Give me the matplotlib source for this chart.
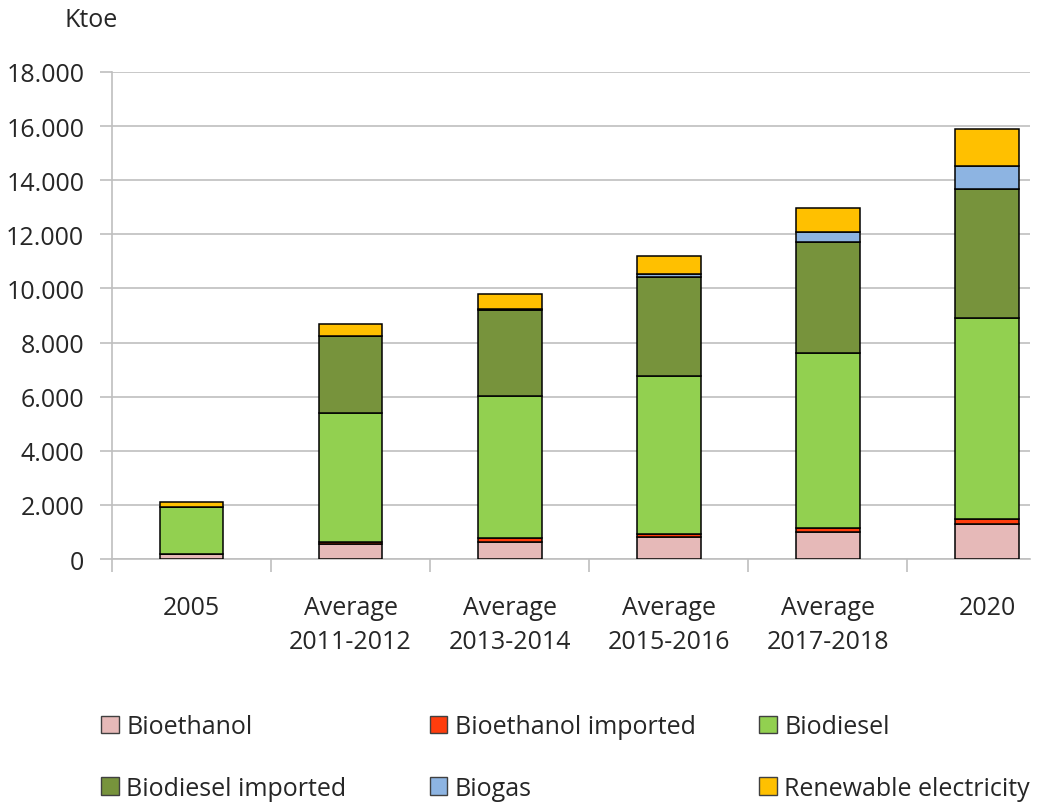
import matplotlib
matplotlib.use('Agg')
from matplotlib import pyplot as plt
from matplotlib.patches import Patch
from matplotlib.ticker import FuncFormatter
import numpy as np

periods = ['2005', 'Average\n2011-2012', 'Average\n2013-2014',
           'Average\n2015-2016', 'Average\n2017-2018', '2020']

# ktoe per source, stacked bottom to top
bioethanol = [180, 550, 620, 800, 1010, 1300]
bioethanol_imported = [0, 90, 150, 110, 150, 180]
biodiesel = [1750, 4740, 5270, 5840, 6460, 7410]
biodiesel_imported = [0, 2850, 3170, 3670, 4090, 4780]
biogas = [0, 10, 40, 100, 380, 850]
renewable_electricity = [190, 440, 550, 680, 900, 1370]

series = [
    ('Bioethanol', bioethanol, '#E6B9B8'),
    ('Bioethanol imported', bioethanol_imported, '#FF3D0D'),
    ('Biodiesel', biodiesel, '#92D050'),
    ('Biodiesel imported', biodiesel_imported, '#77933C'),
    ('Biogas', biogas, '#8DB4E2'),
    ('Renewable electricity', renewable_electricity, '#FFC000'),
]

plt.rcParams['font.family'] = ['Open Sans', 'DejaVu Sans']
plt.rcParams['font.size'] = 18

fig = plt.figure(figsize=(10.43, 8.03), dpi=100)
ax = fig.add_axes([0.1074, 0.3026, 0.880, 0.6065])

x = np.arange(len(periods))
bottom = np.zeros(len(periods))
handles = {}
for name, vals, color in series:
    vals = np.array(vals, dtype=float)
    ax.bar(x, vals, bottom=bottom, width=0.40, color=color,
           edgecolor='black', linewidth=1.1, zorder=3)
    bottom += vals
    handles[name] = Patch(facecolor=color, edgecolor='#404040', linewidth=1.0)

grey = '#BFBFBF'
# last category runs past the right edge, so the axis stops short of it
ax.set_xlim(-0.5, 5.27)
ax.set_ylim(0, 18000)
ax.set_yticks(np.arange(0, 18001, 2000))
ax.yaxis.set_major_formatter(FuncFormatter(lambda v, p: f'{int(v):,}'.replace(',', '.')))
ax.grid(axis='y', color=grey, linewidth=1.2, zorder=0)

ax.set_xticks(x)
ax.set_xticklabels(periods, linespacing=1.45)
ax.set_xticks(np.arange(-0.5, len(periods) - 1), minor=True)
ax.tick_params(axis='x', which='major', length=0, pad=26, colors='#262626')
ax.tick_params(axis='x', which='minor', length=9, width=1.2, color=grey)
ax.tick_params(axis='y', length=9, width=1.2, color=grey, labelcolor='#262626', pad=11)

for s in ['top', 'right']:
    ax.spines[s].set_visible(False)
for s in ['left', 'bottom']:
    ax.spines[s].set_color(grey)
    ax.spines[s].set_linewidth(1.2)

fig.text(0.062, 0.99, 'Ktoe', ha='left', va='top', color='#262626')

# legend laid out in three fixed columns
columns = [
    (0.097, ['Bioethanol', 'Biodiesel imported']),
    (0.412, ['Bioethanol imported', 'Biogas']),
    (0.728, ['Biodiesel', 'Renewable electricity']),
]
for xpos, names in columns:
    fig.legend([handles[n] for n in names], names, loc='upper left',
               bbox_to_anchor=(xpos, 0.109), frameon=False,
               handlelength=0.7, handleheight=0.7, handletextpad=0.3,
               labelspacing=1.45, borderaxespad=0, borderpad=0,
               labelcolor='#262626')

fig.savefig('out.png', dpi=100)
